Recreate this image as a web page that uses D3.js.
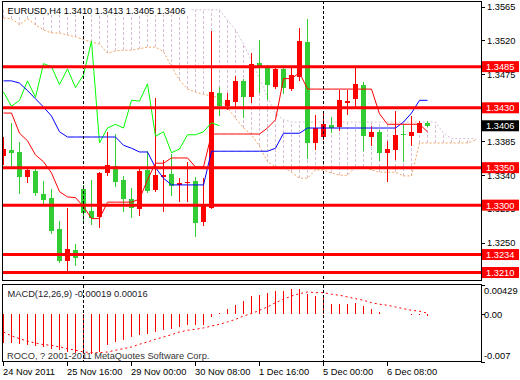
<!DOCTYPE html>
<html>
<head>
<meta charset="utf-8">
<script src="https://cdn.jsdelivr.net/npm/d3@7"></script>
<style>
  body { margin: 0; background: #fff; }
  svg text { font-family: Tahoma, "Liberation Sans", Arial, sans-serif; font-size: 9.3px; }
</style>
</head>
<body>
<div id="container"></div>
<script>
// EURUSD H4, 54 bars, Ichimoku + MACD
const opens = [1.3366, 1.3374, 1.3371, 1.3338, 1.3346, 1.3315, 1.3310, 1.3268, 1.3225, 1.3240,
  1.3322, 1.3292, 1.3284, 1.3343, 1.3352, 1.3334, 1.3308, 1.3295, 1.3347, 1.3320,
  1.3338, 1.3342, 1.3327, 1.3330, 1.3332, 1.3277, 1.3296, 1.3450, 1.3432, 1.3438,
  1.3466, 1.3444, 1.3490, 1.3485, 1.3458, 1.3482, 1.3455, 1.3471, 1.3518, 1.3383,
  1.3391, 1.3407, 1.3404, 1.3436, 1.3442, 1.3461, 1.3391, 1.3398, 1.3370, 1.3374,
  1.3395, 1.3392, 1.3396, 1.3410];
const highs = [1.3391, 1.3410, 1.3384, 1.3348, 1.3351, 1.3332, 1.3322, 1.3279, 1.3296, 1.3248,
  1.3327, 1.3334, 1.3344, 1.3398, 1.3395, 1.3339, 1.3323, 1.3350, 1.3372, 1.3443,
  1.3360, 1.3368, 1.3336, 1.3358, 1.3338, 1.3336, 1.3533, 1.3458, 1.3450, 1.3472,
  1.3469, 1.3503, 1.3521, 1.3487, 1.3485, 1.3485, 1.3483, 1.3537, 1.3549, 1.3420,
  1.3423, 1.3418, 1.3454, 1.3454, 1.3485, 1.3465, 1.3406, 1.3400, 1.3386, 1.3426,
  1.3407, 1.3419, 1.3412, 1.3413];
const lows = [1.3354, 1.3352, 1.3315, 1.3330, 1.3312, 1.3301, 1.3261, 1.3223, 1.3211, 1.3219,
  1.3277, 1.3273, 1.3269, 1.3339, 1.3324, 1.3291, 1.3283, 1.3286, 1.3316, 1.3318,
  1.3291, 1.3312, 1.3304, 1.3304, 1.3257, 1.3272, 1.3295, 1.3419, 1.3427, 1.3431,
  1.3416, 1.3436, 1.3450, 1.3440, 1.3455, 1.3448, 1.3452, 1.3466, 1.3362, 1.3374,
  1.3387, 1.3396, 1.3399, 1.3420, 1.3430, 1.3372, 1.3379, 1.3359, 1.3331, 1.3360,
  1.3358, 1.3379, 1.3396, 1.3405];
const closes = [1.3375, 1.3370, 1.3338, 1.3347, 1.3316, 1.3307, 1.3265, 1.3225, 1.3241, 1.3229,
  1.3289, 1.3283, 1.3343, 1.3354, 1.3331, 1.3308, 1.3296, 1.3346, 1.3319, 1.3340,
  1.3340, 1.3326, 1.3330, 1.3331, 1.3276, 1.3300, 1.3451, 1.3432, 1.3440, 1.3466,
  1.3444, 1.3489, 1.3485, 1.3461, 1.3482, 1.3457, 1.3474, 1.3519, 1.3383, 1.3403,
  1.3408, 1.3403, 1.3440, 1.3439, 1.3462, 1.3392, 1.3398, 1.3370, 1.3375, 1.3394,
  1.3394, 1.3398, 1.3410, 1.3406];

const tenkan = [1.3423, 1.3423, 1.3396, 1.3386, 1.3367, 1.3358, 1.3343, 1.3318, 1.3311, 1.3310,
  1.3298, 1.3282, 1.3282, 1.3304, 1.3304, 1.3304, 1.3304, 1.3308, 1.3334, 1.3356,
  1.3356, 1.3363, 1.3363, 1.3363, 1.3351, 1.3351, 1.3395, 1.3395, 1.3395, 1.3395,
  1.3395, 1.3395, 1.3395, 1.3403, 1.3414, 1.3469, 1.3469, 1.3477, 1.3455, 1.3455,
  1.3455, 1.3455, 1.3455, 1.3455, 1.3455, 1.3455, 1.3455, 1.3422, 1.3408, 1.3408,
  1.3408, 1.3408, 1.3408, 1.3398];
const kijun = [1.3466, 1.3466, 1.3463, 1.3453, 1.3442, 1.3431, 1.3419, 1.3398, 1.3391, 1.3391,
  1.3391, 1.3391, 1.3391, 1.3391, 1.3391, 1.3380, 1.3376, 1.3371, 1.3371, 1.3350,
  1.3336, 1.3327, 1.3327, 1.3327, 1.3327, 1.3327, 1.3372, 1.3372, 1.3372, 1.3372,
  1.3372, 1.3372, 1.3372, 1.3372, 1.3376, 1.3396, 1.3396, 1.3396, 1.3403, 1.3403,
  1.3403, 1.3403, 1.3403, 1.3403, 1.3403, 1.3403, 1.3403, 1.3403, 1.3403, 1.3403,
  1.3411, 1.3423, 1.3440, 1.3440];
// chikou span, bars 0..27
const chikou = [1.3451, 1.3432, 1.3440, 1.3466, 1.3444, 1.3489, 1.3485, 1.3461, 1.3482, 1.3457,
  1.3474, 1.3519, 1.3383, 1.3403, 1.3408, 1.3403, 1.3440, 1.3439, 1.3462, 1.3392,
  1.3398, 1.3370, 1.3375, 1.3394, 1.3394, 1.3398, 1.3410, 1.3406];
// senkou spans, bars 0..59 (cloud runs past the last candle)
const spanA = [1.3550, 1.3549, 1.3541, 1.3549, 1.3541, 1.3534, 1.3530, 1.3530, 1.3527, 1.3525,
  1.3521, 1.3518, 1.3515, 1.3503, 1.3506, 1.3507, 1.3507, 1.3509, 1.3511, 1.3511,
  1.3505, 1.3485, 1.3467, 1.3455, 1.3451, 1.3448, 1.3446, 1.3443, 1.3430, 1.3416,
  1.3403, 1.3394, 1.3379, 1.3358, 1.3351, 1.3350, 1.3344, 1.3336, 1.3336, 1.3347,
  1.3347, 1.3343, 1.3340, 1.3340, 1.3351, 1.3351, 1.3347, 1.3344, 1.3344, 1.3344,
  1.3339, 1.3339, 1.3383, 1.3383, 1.3383, 1.3383, 1.3383, 1.3383, 1.3383, 1.3387];
const spanB = [1.3561, 1.3561, 1.3561, 1.3561, 1.3561, 1.3561, 1.3561, 1.3561, 1.3561, 1.3561,
  1.3561, 1.3561, 1.3561, 1.3561, 1.3561, 1.3561, 1.3561, 1.3561, 1.3561, 1.3561,
  1.3561, 1.3561, 1.3561, 1.3561, 1.3561, 1.3561, 1.3561, 1.3561, 1.3547, 1.3534,
  1.3515, 1.3493, 1.3469, 1.3444, 1.3423, 1.3414, 1.3411, 1.3411, 1.3411, 1.3411,
  1.3411, 1.3411, 1.3411, 1.3411, 1.3411, 1.3411, 1.3411, 1.3411, 1.3411, 1.3411,
  1.3411, 1.3411, 1.3411, 1.3411, 1.3411, 1.3396, 1.3389, 1.3389, 1.3389, 1.3389];

const macdMain = [-0.00421, -0.00421, -0.00431, -0.00445, -0.00465, -0.00480, -0.00504, -0.00528, -0.00553, -0.00567,
  -0.00577, -0.00577, -0.00553, -0.00455, -0.00406, -0.00372, -0.00333, -0.00308, -0.00284, -0.00260,
  -0.00235, -0.00211, -0.00186, -0.00162, -0.00162, -0.00162, -0.00040, 0.00020, 0.00082, 0.00141,
  0.00195, 0.00264, 0.00288, 0.00317, 0.00342, 0.00337, 0.00367, 0.00376, 0.00302, 0.00268,
  0.00254, 0.00156, 0.00156, 0.00156, 0.00170, 0.00122, 0.00082, 0.00034, 0.00009, 0.00005,
  0.00002, -0.00005, -0.00010, -0.00019];
const macdSignal = [-0.00260, -0.00318, -0.00357, -0.00396, -0.00421, -0.00445, -0.00455, -0.00480, -0.00504, -0.00528,
  -0.00553, -0.00563, -0.00563, -0.00553, -0.00528, -0.00504, -0.00480, -0.00440, -0.00406, -0.00367,
  -0.00333, -0.00299, -0.00260, -0.00235, -0.00220, -0.00201, -0.00172, -0.00147, -0.00113, -0.00074,
  -0.00025, 0.00010, 0.00058, 0.00107, 0.00170, 0.00220, 0.00268, 0.00302, 0.00327, 0.00317,
  0.00317, 0.00293, 0.00279, 0.00254, 0.00229, 0.00205, 0.00170, 0.00147, 0.00132, 0.00107,
  0.00082, 0.00058, 0.00044, 0.00016];

const levels = [1.3485, 1.3430, 1.3350, 1.3300, 1.3234, 1.3210];
const priceTicks = [1.3565, 1.3520, 1.3475, 1.3430, 1.3385, 1.3340, 1.3295, 1.3250];
const bid = 1.3406;
const macdTicks = [0.00429, 0, -0.007];
const macdTickLabels = ["0.00429", "0.00", "-0.007"];
const timeBars = [0, 8, 16, 24, 32, 40, 48];
const timeLabels = ["24 Nov 2011", "25 Nov 16:00", "29 Nov 00:00", "30 Nov 08:00", "1 Dec 16:00", "5 Dec 00:00", "6 Dec 08:00"];
const separatorBars = [10, 40];
const title = "EURUSD,H4  1.3410 1.3413 1.3405 1.3406";
const macdTitle = "MACD(12,26,9) -0.00019 0.00016";
const copyright = "ROCO, ? 2001-2011 MetaQuotes Software Corp.";

const main = () => {
    const w = 520;
    const h = 380;
    const left = 2, right = 481;
    const mainTop = 1, mainBottom = 280;
    const macdTop = 285, macdBottom = 362;
    const upColor = '#ff0000', downColor = '#32cd32';

    const svg = d3.select('#container').append('svg')
        .attr('width', w)
        .attr('height', h)
        .style('display', 'block')
        .style('background', '#fff');

    const xScale = d3.scaleLinear().domain([0, 59]).range([3.5, 475.5]);
    const yScale = d3.scaleLinear().domain([1.3200, 1.3574]).range([mainBottom, 0]);
    const mScale = d3.scaleLinear().domain([-0.007, 0.00429]).range([macdBottom, macdTop]);

    const defs = svg.append('defs');
    defs.append('clipPath').attr('id', 'clipMain').append('rect')
        .attr('x', left).attr('y', mainTop).attr('width', right - left).attr('height', mainBottom - mainTop);
    defs.append('clipPath').attr('id', 'clipMacd').append('rect')
        .attr('x', left).attr('y', macdTop).attr('width', right - left).attr('height', macdBottom - macdTop);

    const plot = svg.append('g').attr('clip-path', 'url(#clipMain)');

    // cloud: dotted verticals between the two spans
    plot.selectAll('.cloud').data(spanA)
        .enter()
        .append('line')
        .attr('class', 'cloud')
        .attr('x1', (d, i) => xScale(i))
        .attr('x2', (d, i) => xScale(i))
        .attr('y1', (d) => yScale(d))
        .attr('y2', (d, i) => yScale(spanB[i]))
        .attr('stroke', (d, i) => d > spanB[i] ? '#f4a460' : '#d8bfd8')
        .attr('stroke-dasharray', '3,2')
        .attr('shape-rendering', 'crispEdges');

    const lineMaker = (arr) => d3.line()
        .x((d, i) => xScale(i))
        .y((d) => yScale(d))(arr);

    plot.append('path')
        .attr('d', lineMaker(spanB))
        .attr('fill', 'none')
        .attr('stroke', '#d8bfd8')
        .attr('stroke-dasharray', '2,2');
    plot.append('path')
        .attr('d', lineMaker(spanA))
        .attr('fill', 'none')
        .attr('stroke', '#f4a460')
        .attr('stroke-dasharray', '2,2');

    // candles
    const idx = closes.map((d, i) => i);
    plot.selectAll('.wick').data(idx)
        .enter()
        .append('line')
        .attr('class', 'wick')
        .attr('x1', (i) => xScale(i))
        .attr('x2', (i) => xScale(i))
        .attr('y1', (i) => yScale(highs[i]))
        .attr('y2', (i) => yScale(lows[i]))
        .attr('stroke', (i) => closes[i] >= opens[i] ? upColor : downColor)
        .attr('shape-rendering', 'crispEdges');

    plot.selectAll('.body').data(idx)
        .enter()
        .append('rect')
        .attr('class', 'body')
        .attr('x', (i) => xScale(i) - 2.5)
        .attr('width', 5)
        .attr('y', (i) => yScale(Math.max(opens[i], closes[i])))
        .attr('height', (i) => Math.max(1, Math.abs(yScale(opens[i]) - yScale(closes[i]))))
        .attr('fill', (i) => closes[i] >= opens[i] ? upColor : downColor)
        .attr('shape-rendering', 'crispEdges');

    // ichimoku lines
    plot.append('path').attr('d', lineMaker(chikou))
        .attr('fill', 'none').attr('stroke', '#00ff00').attr('stroke-width', 1);
    plot.append('path').attr('d', lineMaker(kijun))
        .attr('fill', 'none').attr('stroke', '#0000ff').attr('stroke-width', 1);
    plot.append('path').attr('d', lineMaker(tenkan))
        .attr('fill', 'none').attr('stroke', '#ff0000').attr('stroke-width', 1);

    // period separators
    separatorBars.forEach((b) => {
        plot.append('line')
            .attr('x1', xScale(b) - 0.5).attr('x2', xScale(b) - 0.5)
            .attr('y1', mainTop).attr('y2', mainBottom)
            .attr('stroke', '#000')
            .attr('stroke-dasharray', '3,2')
            .attr('shape-rendering', 'crispEdges');
    });

    // horizontal levels
    plot.selectAll('.level').data(levels)
        .enter()
        .append('line')
        .attr('class', 'level')
        .attr('x1', left).attr('x2', right)
        .attr('y1', (d) => yScale(d)).attr('y2', (d) => yScale(d))
        .attr('stroke', '#ff0000')
        .attr('stroke-width', 3);

    // title
    svg.append('rect').attr('x', 4).attr('y', 2).attr('width', 186).attr('height', 13).attr('fill', '#fff');
    svg.append('text').attr('x', 7.5).attr('y', 13.5).attr('fill', '#000').text(title);

    // frames
    svg.append('rect')
        .attr('x', left + 0.5).attr('y', mainTop + 0.5)
        .attr('width', right - left).attr('height', mainBottom - mainTop)
        .attr('fill', 'none').attr('stroke', '#000');
    svg.append('rect')
        .attr('x', left + 0.5).attr('y', macdTop - 0.5)
        .attr('width', right - left).attr('height', macdBottom - macdTop)
        .attr('fill', 'none').attr('stroke', '#000');

    // price axis
    const axisG = svg.append('g');
    priceTicks.forEach((p) => {
        const ty = yScale(p);
        axisG.append('line').attr('x1', right).attr('x2', right + 4)
            .attr('y1', Math.round(ty) + 0.5).attr('y2', Math.round(ty) + 0.5).attr('stroke', '#000');
        axisG.append('text').attr('x', right + 6).attr('y', ty + 3.4).attr('fill', '#000').text(p.toFixed(4));
    });
    levels.forEach((p) => {
        const ty = yScale(p);
        axisG.append('rect').attr('x', right + 1).attr('y', ty - 5.5).attr('width', 37).attr('height', 11).attr('fill', '#ff0000');
        axisG.append('text').attr('x', right + 5).attr('y', ty + 3.4).attr('fill', '#fff').text(p.toFixed(4));
    });
    axisG.append('rect').attr('x', right + 1).attr('y', yScale(bid) - 5.5).attr('width', 37).attr('height', 11).attr('fill', '#000');
    axisG.append('text').attr('x', right + 5).attr('y', yScale(bid) + 3.4).attr('fill', '#fff').text(bid.toFixed(4));

    // MACD panel
    const macd = svg.append('g').attr('clip-path', 'url(#clipMacd)');
    macd.selectAll('.hist').data(macdMain)
        .enter()
        .append('line')
        .attr('class', 'hist')
        .attr('x1', (d, i) => xScale(i)).attr('x2', (d, i) => xScale(i))
        .attr('y1', mScale(0))
        .attr('y2', (d) => mScale(d))
        .attr('stroke', '#ff0000')
        .attr('shape-rendering', 'crispEdges');
    macd.append('path')
        .attr('d', d3.line().x((d, i) => xScale(i)).y((d) => mScale(d))(macdSignal))
        .attr('fill', 'none')
        .attr('stroke', '#ff0000')
        .attr('stroke-dasharray', '2,3');
    separatorBars.forEach((b) => {
        macd.append('line')
            .attr('x1', xScale(b) - 0.5).attr('x2', xScale(b) - 0.5)
            .attr('y1', macdTop).attr('y2', macdBottom)
            .attr('stroke', '#000')
            .attr('stroke-dasharray', '3,2')
            .attr('shape-rendering', 'crispEdges');
    });
    svg.append('text').attr('x', 7.5).attr('y', 297).attr('fill', '#1a1a2a').text(macdTitle);
    svg.append('text').attr('x', 7).attr('y', 358.5).attr('fill', '#333').text(copyright);

    const mOffsets = [6, 0, -6];
    macdTicks.forEach((v, k) => {
        const ty = mScale(v);
        axisG.append('line').attr('x1', right).attr('x2', right + 4)
            .attr('y1', Math.round(ty) + 0.5).attr('y2', Math.round(ty) + 0.5).attr('stroke', '#000');
        axisG.append('text').attr('x', right + 3).attr('y', ty + mOffsets[k] + 3.4).attr('fill', '#000').text(macdTickLabels[k]);
    });

    // time axis
    timeBars.forEach((b, k) => {
        const tx = xScale(b) - 0.5;
        svg.append('line').attr('x1', tx).attr('x2', tx).attr('y1', macdBottom).attr('y2', macdBottom + 4)
            .attr('stroke', '#000').attr('shape-rendering', 'crispEdges');
        svg.append('text').attr('x', tx).attr('y', 374.5).attr('fill', '#000').text(timeLabels[k]);
    });
}
main();
</script>
</body>
</html>
